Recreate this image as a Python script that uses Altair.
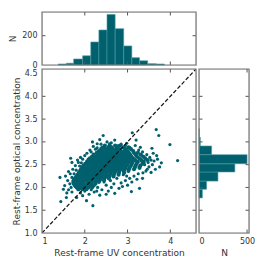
import altair as alt
import pandas as pd

TEAL = "#00606d"
EDGE = "#4c98a2"
TICKC = "#555555"
FRAME = "#777777"
TL = 3.5

# ---- top histogram: rest-frame UV concentration ----
uv_edges = [1.38, 1.57, 1.74, 1.95, 2.14, 2.33, 2.52, 2.71, 2.91, 3.10, 3.28, 3.47, 3.67, 3.86]
uv_counts = [7, 12, 41, 63, 157, 239, 345, 248, 130, 50, 29, 9, 7]

# ---- right histogram: rest-frame optical concentration ----
opt_edges = [1.77, 1.96, 2.14, 2.34, 2.52, 2.72, 2.91, 3.10, 3.29]
opt_counts = [35, 79, 197, 373, 500, 131, 14, 3]

# ---- scatter: dense core rows (y -> x values) ----
core_rows = {
    2.92: "2.47 2.58 2.71 2.83",
    2.88: "2.44 2.55 2.63 2.76 2.90 3.02",
    2.84: "2.38 2.49 2.57 2.66 2.73 2.81 2.95 3.08",
    2.80: "2.33 2.42 2.51 2.60 2.67 2.75 2.84 2.92 3.00 3.13",
    2.76: "2.28 2.36 2.45 2.53 2.61 2.68 2.77 2.86 2.94 3.03 3.15 3.24",
    2.72: "2.21 2.31 2.40 2.48 2.56 2.64 2.71 2.80 2.88 2.97 3.06 3.19 3.31",
    2.68: "2.17 2.26 2.34 2.43 2.52 2.59 2.67 2.75 2.83 2.91 3.00 3.09 3.22 3.36",
    2.64: "2.12 2.22 2.30 2.38 2.47 2.55 2.62 2.70 2.78 2.87 2.95 3.04 3.13 3.27 3.41",
    2.60: "2.09 2.18 2.27 2.35 2.43 2.51 2.58 2.66 2.74 2.82 2.90 2.99 3.08 3.18 3.32 3.47",
    2.56: "2.05 2.14 2.23 2.31 2.39 2.47 2.55 2.62 2.70 2.79 2.86 2.94 3.03 3.12 3.24 3.38",
    2.52: "2.01 2.10 2.19 2.27 2.36 2.44 2.51 2.59 2.67 2.75 2.83 2.91 3.00 3.10 3.21 3.35",
    2.48: "1.97 2.07 2.15 2.24 2.32 2.40 2.48 2.56 2.64 2.72 2.80 2.89 2.98 3.08 3.19 3.30",
    2.44: "1.94 2.03 2.12 2.20 2.29 2.37 2.45 2.53 2.61 2.69 2.77 2.86 2.95 3.05 3.17 3.28",
    2.40: "1.91 2.00 2.09 2.17 2.26 2.34 2.42 2.50 2.58 2.66 2.75 2.84 2.93 3.03 3.15",
    2.36: "1.89 1.98 2.06 2.14 2.23 2.31 2.39 2.47 2.55 2.63 2.72 2.81 2.91 3.02",
    2.32: "1.86 1.95 2.03 2.11 2.20 2.28 2.36 2.44 2.52 2.61 2.70 2.80 2.92",
    2.28: "1.83 1.92 2.00 2.08 2.17 2.25 2.33 2.41 2.50 2.59 2.68 2.79",
    2.24: "1.80 1.89 1.97 2.05 2.14 2.22 2.30 2.39 2.48 2.57 2.67",
    2.20: "1.77 1.86 1.94 2.02 2.11 2.19 2.28 2.37 2.46 2.56",
    2.16: "1.74 1.83 1.91 2.00 2.08 2.17 2.26 2.35 2.45",
    2.12: "1.73 1.81 1.89 1.97 2.06 2.15 2.24 2.33",
    2.08: "1.74 1.82 1.90 1.98 2.07 2.16 2.25",
    2.04: "1.77 1.86 1.94 2.03 2.12 2.21",
    2.00: "1.81 1.90 1.99 2.08 2.17",
    1.96: "1.86 1.95 2.04",
}

# ---- scatter: scattered outer points (x, y) ----
outer_pts = [
    (2.43, 3.14), (2.70, 3.04), (3.11, 3.20), (3.67, 3.27), (3.73, 3.14), (3.20, 3.04),
    (3.99, 2.94), (4.17, 2.59), (3.79, 2.54), (1.42, 2.22), (1.67, 2.64), (1.53, 2.04),
    (1.50, 1.96), (1.44, 1.69), (1.57, 1.78), (1.81, 1.78), (2.04, 1.71), (2.19, 1.60),
    (2.50, 1.85), (2.70, 1.87), (3.09, 1.91), (3.28, 1.98), (3.43, 2.36), (3.55, 2.33),
    (1.92, 2.54), (1.88, 2.47), (2.29, 2.87), (2.29, 2.96),
    (3.35, 2.78), (3.45, 2.72), (3.52, 2.66), (3.60, 2.75), (3.62, 2.58), (3.40, 2.50),
    (3.50, 2.45), (3.68, 2.70), (3.57, 2.86), (3.30, 2.88), (3.42, 2.62), (3.28, 2.42),
    (3.25, 2.30), (3.15, 2.25), (3.05, 2.20), (3.35, 2.20), (2.95, 2.15), (2.85, 2.10),
    (3.00, 2.05), (2.62, 2.00), (2.80, 1.98), (2.40, 1.95), (2.30, 2.00), (2.55, 1.92),
    (2.75, 2.20), (2.90, 2.28),
    (1.60, 2.15), (1.65, 2.08), (1.70, 2.22), (1.62, 1.95), (1.68, 2.00), (1.75, 2.30),
    (1.80, 2.38), (1.72, 2.40), (1.85, 2.55), (1.95, 2.62), (2.00, 2.70), (2.05, 2.75),
    (2.12, 2.82), (2.20, 2.90), (2.38, 2.95), (2.52, 3.00), (2.62, 2.98), (2.85, 2.95),
    (2.95, 2.92), (3.05, 2.88), (2.18, 3.00), (2.35, 3.05), (1.78, 2.02), (1.70, 1.90),
    (1.90, 1.88), (2.10, 1.85), (2.00, 1.92), (1.95, 1.82), (2.22, 1.90), (2.35, 1.83),
    (1.58, 1.88), (1.55, 2.25),
    (1.83, 2.60), (1.90, 2.66), (2.08, 2.62), (2.15, 2.78), (2.25, 2.84), (2.40, 2.88),
    (2.58, 2.96), (2.78, 2.92), (2.98, 2.97), (3.18, 2.92), (3.26, 2.82), (3.38, 2.68),
    (3.48, 2.55), (3.58, 2.50), (3.46, 2.40), (3.36, 2.32), (3.22, 2.18), (3.10, 2.12),
    (2.98, 2.25), (2.88, 2.02), (2.68, 2.08), (2.60, 2.15), (2.50, 2.05), (2.45, 2.12),
    (2.28, 1.92), (2.15, 1.95), (1.98, 1.98), (1.84, 1.95), (1.75, 2.10), (1.66, 2.30),
    (1.78, 2.48), (1.70, 2.55), (1.62, 2.35), (3.70, 2.62), (3.75, 2.45), (3.65, 2.40),
    (3.32, 2.58), (3.55, 2.60),
]

one_to_one = [1.0, 4.6]

# ---------------- build tables ----------------
sx, sy = [], []
for yv, xs in core_rows.items():
    for t in xs.split():
        sx.append(float(t))
        sy.append(yv)
core_df = pd.DataFrame({"x": sx, "y": sy})
outer_df = pd.DataFrame({"x": [p[0] for p in outer_pts], "y": [p[1] for p in outer_pts]})
line_df = pd.DataFrame({"x": one_to_one, "y": one_to_one})
top_df = pd.DataFrame({"x": uv_edges[:-1], "x2": uv_edges[1:], "y": uv_counts})
right_df = pd.DataFrame({"y": opt_edges[:-1], "y2": opt_edges[1:], "x": opt_counts})
one_row = pd.DataFrame({"f": [0]})

W_MAIN, H_MAIN = 154, 164
H_TOP = 53
W_RIGHT = 50

conc_scale = alt.Scale(domain=[1.0, 4.6], nice=False, zero=False)
top_scale = alt.Scale(domain=[0, 362], nice=False)
right_scale = alt.Scale(domain=[0, 520], nice=False)

lab = dict(labelFont="DejaVu Sans", labelFontSize=8, labelColor="#333333",
           titleFont="DejaVu Sans", titleFontSize=9, titleColor="#333333",
           titleFontWeight="normal", domain=False, ticks=False, grid=False)

ax_main_x = alt.Axis(values=[1, 2, 3, 4], format="d", title="Rest-frame UV concentration",
                     labelPadding=4, titlePadding=3, **lab)
ax_main_y = alt.Axis(values=[1.0, 1.5, 2.0, 2.5, 3.0, 3.5, 4.0, 4.5], format=".1f",
                     title="Rest-frame optical concentration", labelPadding=5, titlePadding=3, **lab)
ax_top_y = alt.Axis(values=[0, 200], format="d", title="N", labelPadding=5, titlePadding=4, **lab)
ax_right_x = alt.Axis(values=[0, 500], format="d", title="N", labelPadding=4, titlePadding=3, **lab)


def xticks(vals, scale, axis, h):
    d = alt.Chart(pd.DataFrame({"x": vals}))
    enc = alt.X("x:Q", scale=scale, axis=axis)
    bot = d.mark_rule(color=TICKC, strokeWidth=1).encode(x=enc, y=alt.value(h), y2=alt.value(h - TL))
    top = d.mark_rule(color=TICKC, strokeWidth=1).encode(x=enc, y=alt.value(0), y2=alt.value(TL))
    return [bot, top]


def yticks(vals, scale, axis, w):
    d = alt.Chart(pd.DataFrame({"y": vals}))
    enc = alt.Y("y:Q", scale=scale, axis=axis)
    left = d.mark_rule(color=TICKC, strokeWidth=1).encode(y=enc, x=alt.value(0), x2=alt.value(TL))
    right = d.mark_rule(color=TICKC, strokeWidth=1).encode(y=enc, x=alt.value(w), x2=alt.value(w - TL))
    return [left, right]


def frame(w, h):
    return alt.Chart(one_row).mark_rect(filled=False, stroke=FRAME, strokeWidth=1.2).encode(
        x=alt.value(0), x2=alt.value(w), y=alt.value(0), y2=alt.value(h)
    )


ytick_vals = [1.5, 2.0, 2.5, 3.0, 3.5, 4.0]

# main scatter
core = alt.Chart(core_df).mark_circle(size=17, color=TEAL, opacity=1, clip=True).encode(
    x=alt.X("x:Q", scale=conc_scale, axis=ax_main_x),
    y=alt.Y("y:Q", scale=conc_scale, axis=ax_main_y),
)
outer = alt.Chart(outer_df).mark_circle(size=10, color=TEAL, opacity=1, clip=True).encode(
    x=alt.X("x:Q", scale=conc_scale, axis=ax_main_x),
    y=alt.Y("y:Q", scale=conc_scale, axis=ax_main_y),
)
diag = alt.Chart(line_df).mark_line(color="#111111", strokeWidth=1.2, strokeDash=[4, 2], clip=True).encode(
    x=alt.X("x:Q", scale=conc_scale, axis=ax_main_x),
    y=alt.Y("y:Q", scale=conc_scale, axis=ax_main_y),
)
main = alt.layer(
    core, outer, diag,
    *xticks([2, 3, 4], conc_scale, ax_main_x, H_MAIN),
    *yticks(ytick_vals, conc_scale, ax_main_y, W_MAIN),
    frame(W_MAIN, H_MAIN),
).properties(width=W_MAIN, height=H_MAIN)

# top histogram
top_bars = alt.Chart(top_df).mark_rect(color=TEAL, stroke=EDGE, strokeWidth=0.6).encode(
    x=alt.X("x:Q", scale=conc_scale, axis=None),
    x2="x2:Q",
    y=alt.Y("y:Q", scale=top_scale, axis=ax_top_y),
    y2=alt.datum(0),
)
top = alt.layer(
    top_bars,
    *xticks([2, 3, 4], conc_scale, None, H_TOP),
    *yticks([200], top_scale, ax_top_y, W_MAIN),
    frame(W_MAIN, H_TOP),
).properties(width=W_MAIN, height=H_TOP)

# right histogram
right_bars = alt.Chart(right_df).mark_rect(color=TEAL, stroke=EDGE, strokeWidth=0.6).encode(
    y=alt.Y("y:Q", scale=conc_scale, axis=None),
    y2="y2:Q",
    x=alt.X("x:Q", scale=right_scale, axis=ax_right_x),
    x2=alt.datum(0),
)
right = alt.layer(
    right_bars,
    *xticks([500], right_scale, ax_right_x, H_MAIN),
    *yticks(ytick_vals, conc_scale, None, W_RIGHT),
    frame(W_RIGHT, H_MAIN),
).properties(width=W_RIGHT, height=H_MAIN)

bottom = alt.hconcat(main, right, spacing=3, bounds="flush")
chart = alt.vconcat(top, bottom, spacing=4, bounds="flush").properties(
    padding={"left": 0, "top": 2, "right": 2, "bottom": 0}
).configure_view(strokeWidth=0).configure(background="white")

chart.save("out.html", embed_options={"renderer": "svg", "actions": False})
